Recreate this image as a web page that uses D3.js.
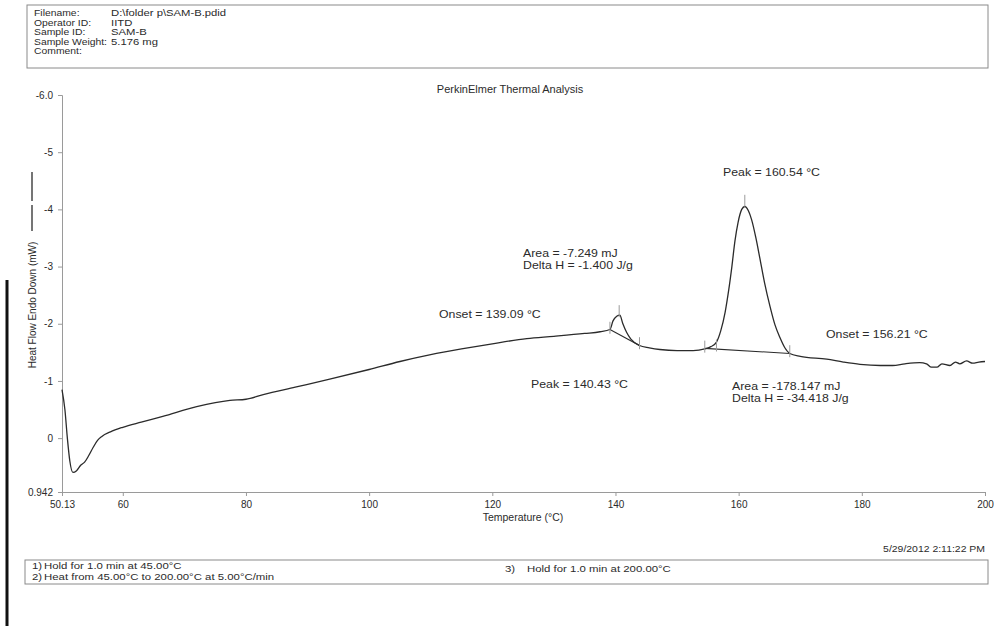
<!DOCTYPE html>
<html>
<head>
<meta charset="utf-8">
<script src="https://cdn.jsdelivr.net/npm/d3@7"></script>
<style>
  html, body { margin: 0; padding: 0; background: #fff; }
  svg { display: block; font-family: "Liberation Sans", Arial, sans-serif; }
</style>
</head>
<body>
<div id="chart"></div>
<script>
// DSC trace (temperature in °C, heat flow in mW, endo down axis reversed)
const temps = [50.13, 50.6, 51.0, 51.4, 51.9, 52.5, 53.2, 53.8, 54.5, 55.2, 55.9, 56.6, 58, 60, 63, 66.5,
  72, 77.4, 80, 82.8, 88, 93.6, 100, 105, 110, 115, 120, 125.6, 130, 135, 137.5, 139.1, 139.6, 140.2,
  140.7, 141.2, 141.8, 142.5, 143.9, 145.5, 147.2, 150, 152.6, 154.5, 155.5, 156.4, 157.1, 157.8, 158.4,
  158.9, 159.4, 159.9, 160.5, 161.0, 161.6, 162.1, 162.8, 163.4, 164.2, 165.1, 165.9, 166.7, 167.5, 168.3,
  170, 174.3, 177, 179.7, 183, 185, 187, 189.4, 190.5, 191.3, 192.2, 193, 194.3, 195.2, 195.9, 197, 198, 199, 200];
const heatFlow = [-0.85, -0.5, 0.0, 0.4, 0.60, 0.57, 0.47, 0.42, 0.30, 0.16, 0.04, -0.03, -0.11, -0.19, -0.28, -0.38,
  -0.55, -0.66, -0.68, -0.76, -0.89, -1.03, -1.20, -1.34, -1.46, -1.56, -1.65, -1.74, -1.78, -1.83, -1.86, -1.90, -2.05, -2.13,
  -2.15, -2.00, -1.85, -1.73, -1.62, -1.58, -1.55, -1.53, -1.53, -1.56, -1.60, -1.68, -1.88, -2.20, -2.60,
  -3.00, -3.45, -3.77, -4.00, -4.05, -3.97, -3.82, -3.50, -3.17, -2.72, -2.30, -1.98, -1.76, -1.58, -1.48,
  -1.43, -1.38, -1.33, -1.29, -1.27, -1.27, -1.30, -1.32, -1.30, -1.24, -1.24, -1.30, -1.27, -1.33, -1.30, -1.35, -1.31, -1.33, -1.34];

// peak integration baselines
const baseline1T = [139.1, 143.9];
const baseline1V = [-1.90, -1.62];
const baseline2T = [154.5, 168.3];
const baseline2V = [-1.57, -1.48];

// small vertical calc markers (onset / peak / limits)
const markerT = [139.1, 140.6, 143.9, 154.5, 156.4, 161.0, 168.3];
const markerV = [-1.93, -2.22, -1.66, -1.60, -1.62, -4.15, -1.52];

const xTicks = [50.13, 60, 80, 100, 120, 140, 160, 180, 200];
const xTickLabels = ['50.13', '60', '80', '100', '120', '140', '160', '180', '200'];
const yTicks = [-6, -5, -4, -3, -2, -1, 0, 0.942];
const yTickLabels = ['-6.0', '-5', '-4', '-3', '-2', '-1', '0', '0.942'];

const headerKeys = ['Filename:', 'Operator ID:', 'Sample ID:', 'Sample Weight:', 'Comment:'];
const headerValues = ['D:\\folder p\\SAM-B.pdid', 'IITD', 'SAM-B', '5.176 mg', ''];

const W = 994, H = 626;
const margin = { top: 95, right: 9, bottom: 134, left: 62 };
const ink = '#2b2b2b';

const svg = d3.select('#chart').append('svg')
  .attr('width', W)
  .attr('height', H);

svg.append('rect').attr('width', W).attr('height', H).attr('fill', '#fff');

// printed text is a bit wider than tall in the scan, so stretch horizontally
function addText(x, y, s, size, sx, anchor) {
  return svg.append('text')
    .attr('transform', `translate(${x},${y}) scale(${sx},1)`)
    .attr('text-anchor', anchor || 'start')
    .attr('font-size', size)
    .attr('fill', ink)
    .text(s);
}

// Scales
const x = d3.scaleLinear()
  .domain([50.13, 200])
  .range([margin.left, W - margin.right]);

const y = d3.scaleLinear()
  .domain([-6, 0.942])
  .range([margin.top, H - margin.bottom]);

// Header box
svg.append('rect')
  .attr('x', 27).attr('y', 5).attr('width', 961).attr('height', 63)
  .attr('fill', 'none').attr('stroke', '#8a8a8a').attr('stroke-width', 1);
headerKeys.forEach((k, i) => addText(34, 16 + i * 9.5, k, 9.8, 1.06));
headerValues.forEach((v, i) => addText(111, 16 + i * 9.5, v, 9.8, 1.15));

// Title
addText(510, 93, 'PerkinElmer Thermal Analysis', 10, 1.1, 'middle');

// Axes
const xAxis = svg.append('g')
  .attr('transform', `translate(0,${y(0.942)})`)
  .call(d3.axisBottom(x).tickValues(xTicks).tickSize(4).tickFormat((d, i) => xTickLabels[i]));
xAxis.selectAll('text').attr('font-size', 10).attr('fill', ink).attr('dy', '0.85em');

const yAxis = svg.append('g')
  .attr('transform', `translate(${margin.left},0)`)
  .call(d3.axisLeft(y).tickValues(yTicks).tickSize(4).tickFormat((d, i) => yTickLabels[i]));
yAxis.selectAll('text').attr('font-size', 10).attr('fill', ink).attr('dx', '-0.2em');

svg.selectAll('.domain').attr('stroke', '#9a9a9a');
svg.selectAll('.tick line').attr('stroke', '#9a9a9a');
svg.selectAll('.tick text').attr('font-family', '"Liberation Sans", Arial, sans-serif');

// Axis titles
addText(523, 521, 'Temperature (°C)', 10, 1.05, 'middle');

svg.append('text')
  .attr('transform', 'translate(36,305) rotate(-90)')
  .attr('text-anchor', 'middle')
  .attr('font-size', 10)
  .attr('fill', ink)
  .text('Heat Flow Endo Down (mW)');

// series legend stroke next to y label
svg.append('line')
  .attr('x1', 32).attr('x2', 32).attr('y1', 172).attr('y2', 201)
  .attr('stroke', ink).attr('stroke-width', 1.3);
svg.append('line')
  .attr('x1', 32).attr('x2', 32).attr('y1', 205).attr('y2', 231)
  .attr('stroke', ink).attr('stroke-width', 1.3);

// Curve
const data = temps.map((t, i) => ({ t, v: heatFlow[i] }));
const line = d3.line()
  .x(d => x(d.t))
  .y(d => y(d.v))
  .curve(d3.curveMonotoneX);

svg.append('path')
  .datum(data)
  .attr('d', line)
  .attr('fill', 'none')
  .attr('stroke', ink)
  .attr('stroke-width', 1.3);

// Baselines
[[baseline1T, baseline1V], [baseline2T, baseline2V]].forEach(([ts, vs]) => {
  svg.append('line')
    .attr('x1', x(ts[0])).attr('y1', y(vs[0]))
    .attr('x2', x(ts[1])).attr('y2', y(vs[1]))
    .attr('stroke', ink)
    .attr('stroke-width', 1.1);
});

// Markers
svg.selectAll('.marker')
  .data(markerT.map((t, i) => ({ t, v: markerV[i] })))
  .join('line')
  .attr('class', 'marker')
  .attr('x1', d => x(d.t)).attr('x2', d => x(d.t))
  .attr('y1', d => y(d.v) - 6).attr('y2', d => y(d.v) + 6)
  .attr('stroke', '#9a9a9a')
  .attr('stroke-width', 1);

// Annotations
const notes = [
  { x: 523, y: 257, s: 'Area = -7.249 mJ' },
  { x: 523, y: 269, s: 'Delta H = -1.400 J/g' },
  { x: 439, y: 318, s: 'Onset = 139.09 °C' },
  { x: 531, y: 388, s: 'Peak = 140.43 °C' },
  { x: 723, y: 176, s: 'Peak = 160.54 °C' },
  { x: 826, y: 338, s: 'Onset = 156.21 °C' },
  { x: 732, y: 390, s: 'Area = -178.147 mJ' },
  { x: 732, y: 402, s: 'Delta H = -34.418 J/g' }
];
notes.forEach(d => addText(d.x, d.y, d.s, 10.8, 1.14));

// Footer: method steps
addText(985, 552, '5/29/2012 2:11:22 PM', 9.5, 1.1, 'end');

svg.append('rect')
  .attr('x', 25).attr('y', 560).attr('width', 963).attr('height', 24)
  .attr('fill', 'none').attr('stroke', '#8a8a8a').attr('stroke-width', 1);

addText(32, 569, '1)', 9.5, 1.2);
addText(44, 569, 'Hold for 1.0 min at 45.00°C', 9.5, 1.2);
addText(32, 580, '2)', 9.5, 1.2);
addText(44, 580, 'Heat from 45.00°C to 200.00°C at 5.00°C/min', 9.5, 1.2);
addText(505, 572, '3)', 9.5, 1.2);
addText(527, 572, 'Hold for 1.0 min at 200.00°C', 9.5, 1.2);

// scanner edge on the left
svg.append('line')
  .attr('x1', 7).attr('x2', 7).attr('y1', 280).attr('y2', H)
  .attr('stroke', '#111').attr('stroke-width', 3);
</script>
</body>
</html>
